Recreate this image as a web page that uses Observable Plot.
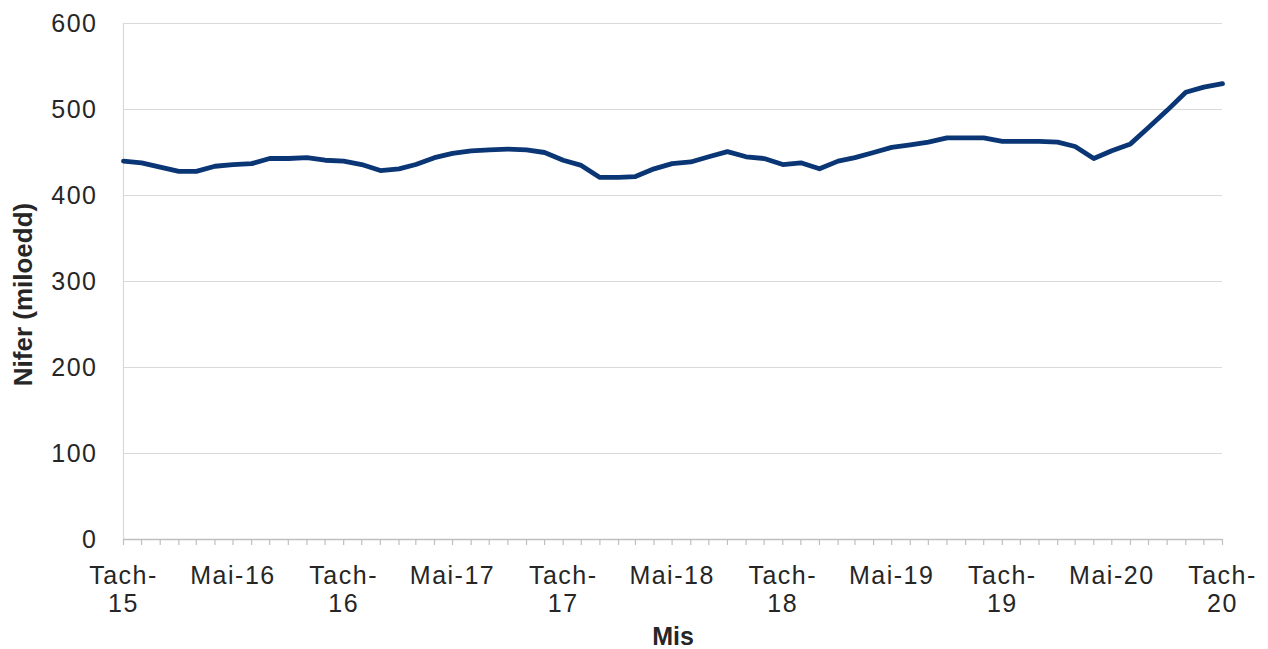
<!DOCTYPE html>
<html>
<head>
<meta charset="utf-8">
<script src="https://cdn.jsdelivr.net/npm/d3@7"></script>
<script src="https://cdn.jsdelivr.net/npm/@observablehq/plot@0.6"></script>
<style>
  html, body { margin: 0; padding: 0; background: #fff; }
  #chart { width: 1268px; height: 649px; }
  svg { font-family: "Liberation Sans", Arial, sans-serif; }
  #chart g[aria-label="x-axis tick label"] text,
  #chart g[aria-label="y-axis tick label"] text { letter-spacing: 1.5px; }
</style>
</head>
<body>
<div id="chart"></div>
<script>
// Monthly values (thousands), Tach-15 (Nov 2015) to Tach-20 (Nov 2020)
const startMonth = "2015-11-01";
const values = [
  440, 438, 433, 428, 428, 434, 436, 437, 443, 443, 444, 441,
  440, 436, 429, 431, 436, 444, 449, 452, 453, 454, 453, 450,
  441, 435, 421, 421, 422, 431, 437, 439, 445, 451, 445, 443,
  436, 438, 431, 440, 444, 450, 456, 459, 462, 467, 467, 467,
  463, 463, 463, 462, 457, 443, 452, 460, 479, 499, 520, 526,
  530
];
const monthNames = ["Ion","Chwef","Maw","Ebr","Mai","Meh","Gorff","Awst","Medi","Hyd","Tach","Rhag"];
const yTicks = [0, 100, 200, 300, 400, 500, 600];
const labelMonths = ["Tach", "Mai"];

const start = new Date(startMonth + "T00:00:00Z");
const dates = values.map((_, i) => d3.utcMonth.offset(start, i));
const data = values.map((v, i) => ({date: dates[i], value: v}));
const labelDates = dates.filter(d => labelMonths.includes(monthNames[d.getUTCMonth()]));

function fmt(d) {
  const m = monthNames[d.getUTCMonth()];
  const yy = String(d.getUTCFullYear()).slice(2);
  return m === "Tach" ? m + "-\n" + yy : m + "-" + yy;
}

const textColor = "#262626";
const chart = Plot.plot({
  width: 1268,
  height: 649,
  marginLeft: 123,
  marginRight: 46,
  marginTop: 23,
  marginBottom: 110,
  style: {fontFamily: "'Liberation Sans', Arial, sans-serif", fontSize: "25px", color: textColor, background: "#fff"},
  x: {type: "utc", domain: [dates[0], dates[dates.length - 1]]},
  y: {domain: [0, 600]},
  marks: [
    Plot.ruleY(yTicks.filter(t => t > 0), {stroke: "#d9d9d9", strokeWidth: 1.2}),
    Plot.ruleX([dates[0]], {y1: 0, y2: 600, stroke: "#d9d9d9", strokeWidth: 1.2}),
    Plot.ruleY([0], {stroke: "#bfbfbf", strokeWidth: 1.5}),
    Plot.axisX(dates, {tickSize: 6, tickFormat: () => "", stroke: "#bfbfbf", strokeWidth: 1.2, label: null}),
    Plot.axisX(labelDates, {tickSize: 0, tickPadding: 25, tickFormat: fmt, fontSize: 25, lineHeight: 1.12, fill: textColor, label: null}),
    Plot.axisY(yTicks, {tickSize: 0, tickPadding: 26, fontSize: 25, fill: textColor, label: null}),
    Plot.line(data, {x: "date", y: "value", stroke: "#0b3675", strokeWidth: 4.8, strokeLinejoin: "round", strokeLinecap: "round"}),
    Plot.text(["Mis"], {frameAnchor: "bottom", dy: 105, fontSize: 25, fontWeight: "bold", fill: textColor, style: {letterSpacing: "1.5px"}}),
    Plot.text(["Nifer (miloedd)"], {frameAnchor: "left", textAnchor: "middle", dx: -100, dy: 13, rotate: -90, fontSize: 26, fontWeight: "bold", fill: textColor, style: {letterSpacing: "1.8px"}})
  ]
});
document.getElementById("chart").appendChild(chart);
</script>
</body>
</html>
